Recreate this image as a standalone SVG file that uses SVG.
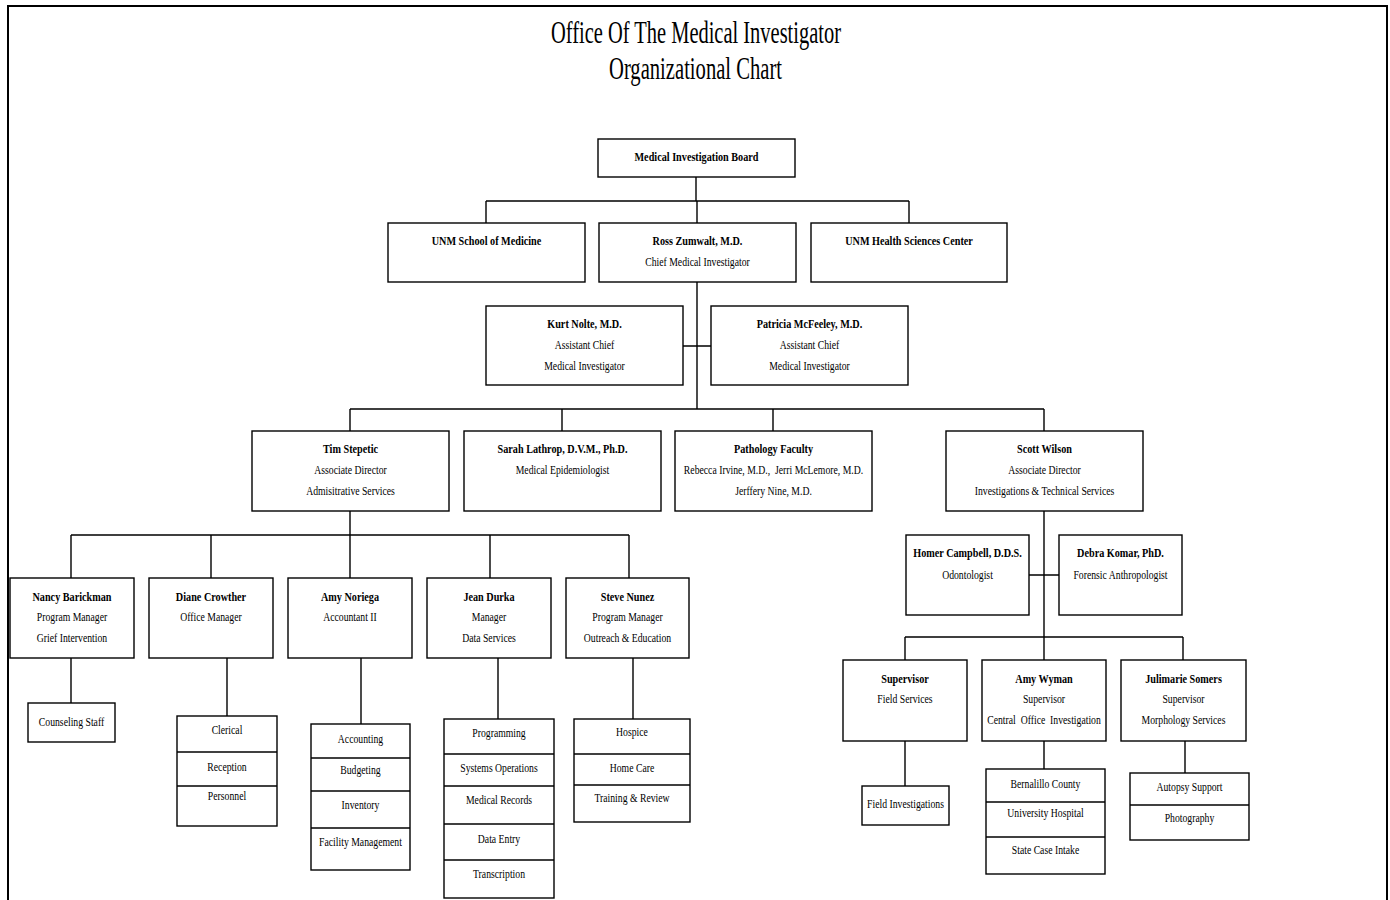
<svg xmlns="http://www.w3.org/2000/svg" width="1390" height="900" viewBox="0 0 1390 900">
<style>
.n rect{fill:#fff;stroke:#000;stroke-width:1.4}
.n line{stroke:#000;stroke-width:1.4}
#connectors path{fill:none;stroke:#000;stroke-width:1.4}
text{font-family:"Liberation Serif","Times New Roman",serif;font-size:13.5px;fill:#000;text-anchor:middle}
.b{font-weight:bold;font-size:13px}
.t{font-size:31px}
</style>
<rect x="8" y="6" width="1379" height="900" fill="#fff" stroke="#000" stroke-width="2"/>
<g id="title">
<text class="t" x="696" y="43" textLength="290" lengthAdjust="spacingAndGlyphs">Office Of The Medical Investigator</text>
<text class="t" x="695.5" y="79" textLength="173" lengthAdjust="spacingAndGlyphs">Organizational Chart</text>
</g>
<g id="connectors">
<path d="M696 177V201M486 201H909M486 201V223M697 201V223M909 201V223"/>
<path d="M697 282V409M683 346H711"/>
<path d="M350 409H1044M350 409V431M562 409V431M773 409V431M1044 409V431"/>
<path d="M350 511V535M71 535H629M71 535V578M211 535V578M350 535V578M490 535V578M629 535V578"/>
<path d="M1044 511V660M1029 575H1059M905 637H1183M905 637V660M1183 637V660"/>
<path d="M71 658V703M227 658V716M361 658V724M498 658V719M633 658V719"/>
<path d="M905 741V786M1044 741V769M1185 741V773"/>
</g>
<g id="board" class="n"><rect x="598" y="139" width="197" height="38"/>
<text class="b" transform="translate(696.5 161) scale(.785 1)">Medical Investigation Board</text></g>
<g id="som" class="n"><rect x="388" y="223" width="197" height="59"/>
<text class="b" transform="translate(486.5 245) scale(.785 1)">UNM School of Medicine</text></g>
<g id="ross" class="n"><rect x="599" y="223" width="197" height="59"/>
<text class="b" transform="translate(697.5 245) scale(.785 1)">Ross Zumwalt, M.D.</text>
<text transform="translate(697.5 266) scale(.72 1)">Chief Medical Investigator</text></g>
<g id="hsc" class="n"><rect x="811" y="223" width="196" height="59"/>
<text class="b" transform="translate(909 245) scale(.785 1)">UNM Health Sciences Center</text></g>
<g id="nolte" class="n"><rect x="486" y="306" width="197" height="79"/>
<text class="b" transform="translate(584.5 328) scale(.785 1)">Kurt Nolte, M.D.</text>
<text transform="translate(584.5 349) scale(.72 1)">Assistant Chief</text>
<text transform="translate(584.5 370) scale(.72 1)">Medical Investigator</text></g>
<g id="mcfeeley" class="n"><rect x="711" y="306" width="197" height="79"/>
<text class="b" transform="translate(809.5 328) scale(.785 1)">Patricia McFeeley, M.D.</text>
<text transform="translate(809.5 349) scale(.72 1)">Assistant Chief</text>
<text transform="translate(809.5 370) scale(.72 1)">Medical Investigator</text></g>
<g id="tim" class="n"><rect x="252" y="431" width="197" height="80"/>
<text class="b" transform="translate(350.5 453) scale(.785 1)">Tim Stepetic</text>
<text transform="translate(350.5 474) scale(.72 1)">Associate Director</text>
<text transform="translate(350.5 495) scale(.72 1)">Admisitrative Services</text></g>
<g id="sarah" class="n"><rect x="464" y="431" width="197" height="80"/>
<text class="b" transform="translate(562.5 453) scale(.785 1)">Sarah Lathrop, D.V.M., Ph.D.</text>
<text transform="translate(562.5 474) scale(.72 1)">Medical Epidemiologist</text></g>
<g id="pathology" class="n"><rect x="675" y="431" width="197" height="80"/>
<text class="b" transform="translate(773.5 453) scale(.785 1)">Pathology Faculty</text>
<text transform="translate(773.5 474) scale(.72 1)" xml:space="preserve">Rebecca Irvine, M.D.,  Jerri McLemore, M.D.</text>
<text transform="translate(773.5 495) scale(.72 1)">Jerffery Nine, M.D.</text></g>
<g id="scott" class="n"><rect x="946" y="431" width="197" height="80"/>
<text class="b" transform="translate(1044.5 453) scale(.785 1)">Scott Wilson</text>
<text transform="translate(1044.5 474) scale(.72 1)">Associate Director</text>
<text transform="translate(1044.5 495) scale(.72 1)">Investigations &amp; Technical Services</text></g>
<g id="nancy" class="n"><rect x="10" y="578" width="124" height="80"/>
<text class="b" transform="translate(72 601) scale(.785 1)">Nancy Barickman</text>
<text transform="translate(72 621) scale(.72 1)">Program Manager</text>
<text transform="translate(72 642) scale(.72 1)">Grief Intervention</text></g>
<g id="diane" class="n"><rect x="149" y="578" width="124" height="80"/>
<text class="b" transform="translate(211 601) scale(.785 1)">Diane Crowther</text>
<text transform="translate(211 621) scale(.72 1)">Office Manager</text></g>
<g id="noriega" class="n"><rect x="288" y="578" width="124" height="80"/>
<text class="b" transform="translate(350 601) scale(.785 1)">Amy Noriega</text>
<text transform="translate(350 621) scale(.72 1)">Accountant II</text></g>
<g id="durka" class="n"><rect x="427" y="578" width="124" height="80"/>
<text class="b" transform="translate(489 601) scale(.785 1)">Jean Durka</text>
<text transform="translate(489 621) scale(.72 1)">Manager</text>
<text transform="translate(489 642) scale(.72 1)">Data Services</text></g>
<g id="nunez" class="n"><rect x="566" y="578" width="123" height="80"/>
<text class="b" transform="translate(627.5 601) scale(.785 1)">Steve Nunez</text>
<text transform="translate(627.5 621) scale(.72 1)">Program Manager</text>
<text transform="translate(627.5 642) scale(.72 1)">Outreach &amp; Education</text></g>
<g id="homer" class="n"><rect x="906" y="535" width="123" height="80"/>
<text class="b" transform="translate(967.5 557) scale(.785 1)">Homer Campbell, D.D.S.</text>
<text transform="translate(967.5 579) scale(.72 1)">Odontologist</text></g>
<g id="debra" class="n"><rect x="1059" y="535" width="123" height="80"/>
<text class="b" transform="translate(1120.5 557) scale(.785 1)">Debra Komar, PhD.</text>
<text transform="translate(1120.5 579) scale(.72 1)">Forensic Anthropologist</text></g>
<g id="supfs" class="n"><rect x="843" y="660" width="124" height="81"/>
<text class="b" transform="translate(905 683) scale(.785 1)">Supervisor</text>
<text transform="translate(905 703) scale(.72 1)">Field Services</text></g>
<g id="wyman" class="n"><rect x="982" y="660" width="124" height="81"/>
<text class="b" transform="translate(1044 683) scale(.785 1)">Amy Wyman</text>
<text transform="translate(1044 703) scale(.72 1)">Supervisor</text>
<text transform="translate(1044 724) scale(.72 1)" xml:space="preserve">Central  Office  Investigation</text></g>
<g id="somers" class="n"><rect x="1121" y="660" width="125" height="81"/>
<text class="b" transform="translate(1183.5 683) scale(.785 1)">Julimarie Somers</text>
<text transform="translate(1183.5 703) scale(.72 1)">Supervisor</text>
<text transform="translate(1183.5 724) scale(.72 1)">Morphology Services</text></g>
<g id="counseling" class="n"><rect x="28" y="703" width="87" height="39"/>
<text transform="translate(71.5 726) scale(.72 1)">Counseling Staff</text></g>
<g id="diane-list" class="n"><rect x="177" y="716" width="100" height="110"/>
<line x1="177" y1="752" x2="277" y2="752"/><line x1="177" y1="786" x2="277" y2="786"/>
<text transform="translate(227 734) scale(.72 1)">Clerical</text>
<text transform="translate(227 771) scale(.72 1)">Reception</text>
<text transform="translate(227 800) scale(.72 1)">Personnel</text></g>
<g id="noriega-list" class="n"><rect x="311" y="724" width="99" height="146"/>
<line x1="311" y1="758" x2="410" y2="758"/><line x1="311" y1="791" x2="410" y2="791"/><line x1="311" y1="828" x2="410" y2="828"/>
<text transform="translate(360.5 743) scale(.72 1)">Accounting</text>
<text transform="translate(360.5 774) scale(.72 1)">Budgeting</text>
<text transform="translate(360.5 809) scale(.72 1)">Inventory</text>
<text transform="translate(360.5 846) scale(.72 1)">Facility Management</text></g>
<g id="durka-list" class="n"><rect x="444" y="719" width="110" height="179"/>
<line x1="444" y1="754" x2="554" y2="754"/><line x1="444" y1="786" x2="554" y2="786"/><line x1="444" y1="824" x2="554" y2="824"/><line x1="444" y1="860" x2="554" y2="860"/>
<text transform="translate(499 737) scale(.72 1)">Programming</text>
<text transform="translate(499 772) scale(.72 1)">Systems Operations</text>
<text transform="translate(499 804) scale(.72 1)">Medical Records</text>
<text transform="translate(499 843) scale(.72 1)">Data Entry</text>
<text transform="translate(499 878) scale(.72 1)">Transcription</text></g>
<g id="nunez-list" class="n"><rect x="574" y="719" width="116" height="103"/>
<line x1="574" y1="754" x2="690" y2="754"/><line x1="574" y1="785" x2="690" y2="785"/>
<text transform="translate(632 736) scale(.72 1)">Hospice</text>
<text transform="translate(632 772) scale(.72 1)">Home Care</text>
<text transform="translate(632 802) scale(.72 1)">Training &amp; Review</text></g>
<g id="fieldinv" class="n"><rect x="862" y="786" width="87" height="39"/>
<text transform="translate(905.5 808) scale(.72 1)">Field Investigations</text></g>
<g id="wyman-list" class="n"><rect x="986" y="769" width="119" height="105"/>
<line x1="986" y1="802" x2="1105" y2="802"/><line x1="986" y1="837" x2="1105" y2="837"/>
<text transform="translate(1045.5 788) scale(.72 1)">Bernalillo County</text>
<text transform="translate(1045.5 817) scale(.72 1)">University Hospital</text>
<text transform="translate(1045.5 854) scale(.72 1)">State Case Intake</text></g>
<g id="somers-list" class="n"><rect x="1130" y="773" width="119" height="67"/>
<line x1="1130" y1="805" x2="1249" y2="805"/>
<text transform="translate(1189.5 791) scale(.72 1)">Autopsy Support</text>
<text transform="translate(1189.5 822) scale(.72 1)">Photography</text></g>
</svg>
